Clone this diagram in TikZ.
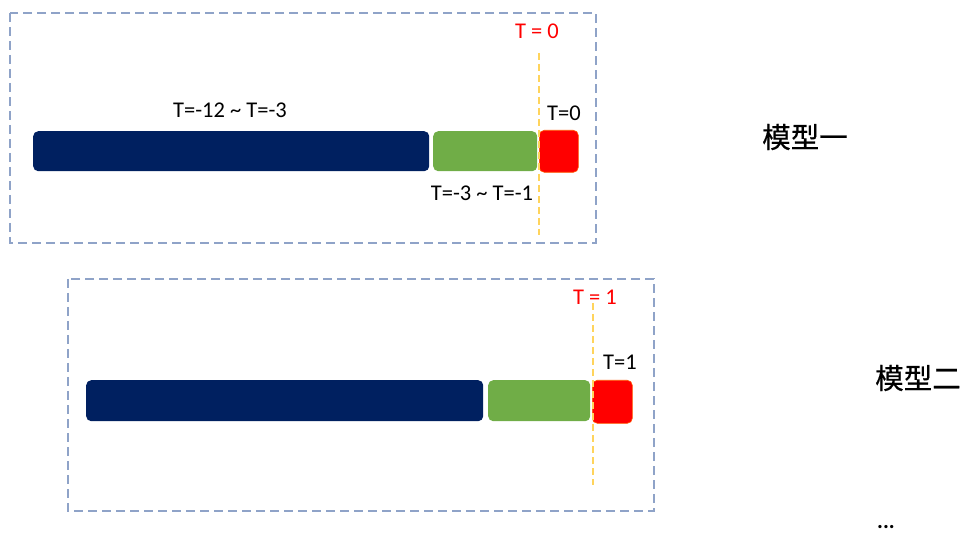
\documentclass[tikz,border=0pt]{standalone}
\usepackage{fontspec}
\setmainfont{Carlito}
\newfontfamily\cjk[FakeBold=0.6]{Noto Sans CJK SC}
\definecolor{navybar}{HTML}{002060}
\definecolor{greenbar}{HTML}{70AD47}
\definecolor{redbar}{HTML}{FF0000}
\definecolor{frameblue}{HTML}{8FA3C8}
\definecolor{nowline}{HTML}{FFD45C}
\begin{document}
\begin{tikzpicture}[x=1pt,y=-1pt,
  frame/.style={draw=frameblue,line width=1.6pt,dash pattern=on 9pt off 5pt},
  bar/.style={rectangle,rounded corners=5pt,inner sep=0pt,anchor=north west},
  navyseg/.style={bar,fill=navybar},
  greenseg/.style={bar,fill=greenbar},
  redseg/.style={bar,fill=redbar,draw=orange!70!red,line width=0.6pt},
  nowmark/.style={draw=nowline,line width=2pt,dash pattern=on 7pt off 4pt},
  lbl/.style={font=\fontsize{22.5}{26}\selectfont,inner sep=0pt},
  redlbl/.style={lbl,text=redbar},
  model/.style={font=\cjk\fontsize{28.5}{32}\selectfont,inner sep=0pt}]
\useasboundingbox (0,0) rectangle (975,537);
% model 1
\draw[frame] (10,13) rectangle (596,243);
\node[navyseg,minimum width=396pt,minimum height=40pt] (n1) at (33,131) {};
\node[greenseg,minimum width=104pt,minimum height=40pt] (g1) at (433,131) {};
\node[redseg,minimum width=39pt,minimum height=42pt] (r1) at (539,130) {};
\coordinate (a1) at (539,53);
\coordinate (b1) at (539,235);
\draw[nowmark] (a1) -- (b1);
\node[redlbl] (t01) at (537,31) {T = 0};
\node[lbl] (t02) at (564,113) {T=0};
\node[lbl] (t03) at (230,110) {T=-12 \char`\~{} T=-3};
\node[lbl] (t04) at (482,193) {T=-3 \char`\~{} T=-1};
\node[model] (m1) at (805,137) {模型一};
% model 2
\draw[frame] (68,279) rectangle (654,511);
\node[navyseg,minimum width=397pt,minimum height=41pt] (n2) at (86,380) {};
\node[greenseg,minimum width=102pt,minimum height=41pt] (g2) at (488,380) {};
\node[redseg,minimum width=40pt,minimum height=43pt] (r2) at (592,380) {};
\coordinate (a2) at (593,303);
\coordinate (b2) at (593,485);
\draw[nowmark] (a2) -- (b2);
\node[redlbl] (t11) at (595,297) {T = 1};
\node[lbl] (t12) at (620,362) {T=1};
\node[model] (m2) at (918,378) {模型二};
\node[font=\fontsize{22}{24}\selectfont\bfseries,inner sep=0pt] (dots) at (886,527) {...};
\end{tikzpicture}
\end{document}
